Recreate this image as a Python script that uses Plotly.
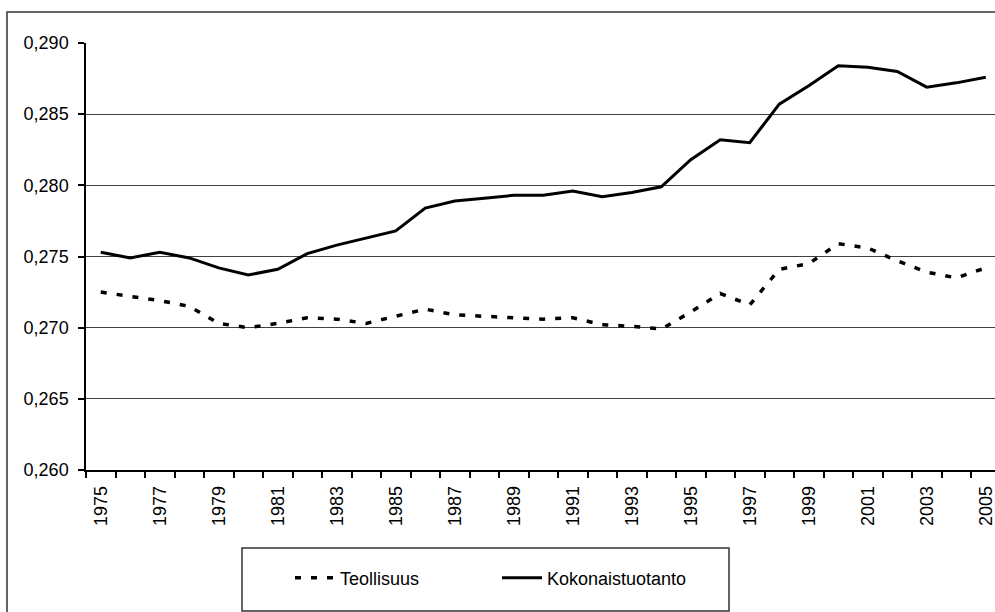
import plotly.graph_objects as go

years = list(range(1975, 2006))
teollisuus = [0.2725, 0.2722, 0.2719, 0.2715, 0.2703, 0.2700, 0.2703, 0.2707, 0.2706,
              0.2703, 0.2708, 0.2713, 0.2709, 0.2708, 0.2707, 0.2706, 0.2707, 0.2702,
              0.2701, 0.2699, 0.2711, 0.2724, 0.2716, 0.2741, 0.2745, 0.2759, 0.2756,
              0.2747, 0.2739, 0.2735, 0.2742]
kokonais = [0.2753, 0.2749, 0.2753, 0.2749, 0.2742, 0.2737, 0.2741, 0.2752, 0.2758,
            0.2763, 0.2768, 0.2784, 0.2789, 0.2791, 0.2793, 0.2793, 0.2796, 0.2792,
            0.2795, 0.2799, 0.2818, 0.2832, 0.2830, 0.2857, 0.2870, 0.2884, 0.2883,
            0.2880, 0.2869, 0.2872, 0.2876]
series_names = ["Teollisuus", "Kokonaistuotanto"]
y_ticks = [0.260, 0.265, 0.270, 0.275, 0.280, 0.285, 0.290]

W, H = 995, 612
L, R, T, B = 86, 0, 43, 142
pw, ph = W - L - R, H - T - B
px_per_year = 29.5

def px_x(p):
    return (p - L) / pw

def px_y(p):
    return (H - B - p) / ph

fig = go.Figure()
fig.add_trace(go.Scatter(x=years, y=teollisuus, name=series_names[0], mode="lines",
                         line=dict(color="black", width=3.5, dash="6px,10px")))
fig.add_trace(go.Scatter(x=years, y=kokonais, name=series_names[1], mode="lines",
                         line=dict(color="black", width=3)))

font = dict(family="Liberation Sans, Arial, sans-serif", size=18, color="black")

fig.update_layout(
    width=W, height=H,
    margin=dict(l=L, r=R, t=T, b=B, pad=0),
    paper_bgcolor="white", plot_bgcolor="white",
    separators=", ",
    font=font,
    showlegend=True,
    legend=dict(orientation="h", x=px_x(290), y=px_y(578), xanchor="left", yanchor="middle",
                bgcolor="rgba(0,0,0,0)", borderwidth=0, font=font,
                entrywidth=152, entrywidthmode="pixels", itemwidth=40),
    xaxis=dict(range=[1974.5, 1974.5 + pw / px_per_year], tickmode="linear", tick0=1975, dtick=2,
               tickangle=-90, ticks="", showgrid=False, zeroline=False,
               showline=True, linecolor="black", linewidth=1.5,
               ticklabelstandoff=7, ticklabeloverflow="allow",
               minor=dict(tickmode="linear", tick0=1974.5, dtick=1, ticks="outside",
                          ticklen=6, tickcolor="black", tickwidth=1.5, showgrid=False)),
    yaxis=dict(range=[0.260, 0.290], tickvals=y_ticks, tickformat=".3f",
               ticks="outside", ticklen=6, tickcolor="black", tickwidth=1.5,
               showgrid=True, gridcolor="#404040", gridwidth=1, zeroline=False,
               showline=True, linecolor="black", linewidth=1.5, ticklabelstandoff=6),
    shapes=[
        dict(type="rect", xref="paper", yref="paper",
             x0=px_x(7), x1=px_x(1010), y0=px_y(630), y1=px_y(12),
             line=dict(color="#333333", width=1.5), fillcolor="rgba(0,0,0,0)", layer="below"),
        dict(type="rect", xref="paper", yref="paper",
             x0=px_x(242), x1=px_x(729), y0=px_y(611), y1=px_y(548),
             line=dict(color="#333333", width=1.5), fillcolor="rgba(0,0,0,0)", layer="below"),
    ],
)

fig.write_html("out.html", config={"displayModeBar": False},
               post_script="document.body.style.margin='0';")
